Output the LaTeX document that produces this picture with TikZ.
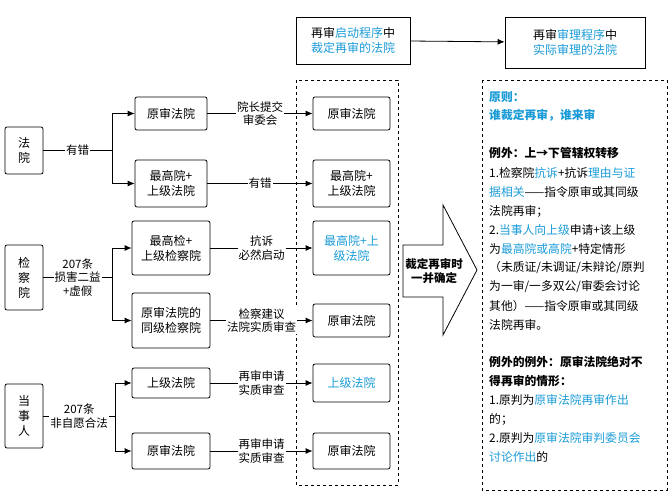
\documentclass[tikz,border=0pt]{standalone}
\usepackage{fontspec}
\setmainfont{Noto Sans CJK SC}
\usetikzlibrary{arrows.meta}
\definecolor{hlblue}{HTML}{1A9BD7}
\newcommand{\hl}[1]{\textcolor{hlblue}{#1}}
\tikzset{
  box/.style={draw, rounded corners=2pt, thick, align=center, inner sep=0pt},
  lbl/.style={fill=white, align=center, inner sep=1pt, font=\fontsize{11.5}{13.5}\selectfont},
  arr/.style={-{Latex[length=7pt,width=6pt]}, thick},
  txt/.style={anchor=west, inner sep=0pt, font=\fontsize{11.8}{13}\selectfont}
}
\begin{document}
\begin{tikzpicture}[x=1pt,y=-1pt,font=\fontsize{12}{15}\selectfont]
\useasboundingbox (0,0) rectangle (671,500);

% top headers
\node[box, rounded corners=0pt, minimum width=114, minimum height=47] (top1) at (353,40.5) {再审\hl{启动程序}中\\\hl{裁定再审的法院}};
\node[box, rounded corners=0pt, minimum width=140, minimum height=51] (top2) at (575,42.5) {再审\hl{审理程序}中\\\hl{实际审理的法院}};
\draw[arr] (top1) -- (top2);

% dashed frames
\draw[dashed, thick] (296,80) rectangle (398,485);
\draw[dashed, thick] (482,80) rectangle (667,490);

% left parties
\node[box, minimum width=38, minimum height=47] (fy) at (24,150.5) {法\\院};
\node[box, minimum width=38, minimum height=65] (jcy) at (24,277.5) {检\\察\\院};
\node[box, minimum width=38, minimum height=64] (dsr) at (24,416) {当\\事\\人};

% middle column
\node[box, minimum width=72, minimum height=33] (m1) at (171,113.5) {原审法院};
\node[box, minimum width=72, minimum height=47] (m2) at (171,183.5) {最高院+\\上级法院};
\node[box, minimum width=78, minimum height=54] (m3) at (171,248) {最高检+\\上级检察院};
\node[box, minimum width=78, minimum height=55] (m4) at (171,320.5) {原审法院的\\同级检察院};
\node[box, minimum width=78, minimum height=30] (m5) at (171,383) {上级法院};
\node[box, minimum width=78, minimum height=36] (m6) at (171,451) {原审法院};

% right column
\node[box, minimum width=77, minimum height=33] (r1) at (351.5,113.5) {原审法院};
\node[box, minimum width=77, minimum height=47] (r2) at (351.5,183.5) {最高院+\\上级法院};
\node[box, minimum width=77, minimum height=54] (r3) at (351.5,248) {\hl{最高院+上}\\\hl{级法院}};
\node[box, minimum width=77, minimum height=33] (r4) at (351.5,320.5) {原审法院};
\node[box, minimum width=77, minimum height=38] (r5) at (351.5,383) {\hl{上级法院}};
\node[box, minimum width=77, minimum height=36] (r6) at (351.5,451) {原审法院};

% branches
\coordinate (b1) at (112,150.5);
\coordinate (b2) at (112,277.5);
\coordinate (b3) at (115,416);
\draw[thick] (fy) -- node[lbl] {有错} (b1);
\draw[thick] (jcy) -- node[lbl] {207条\\损害二益\\+虚假} (b2);
\draw[thick] (dsr) -- node[lbl] {207条\\非自愿合法} (b3);
\draw[arr] (b1) |- (m1);
\draw[arr] (b1) |- (m2);
\draw[arr] (b2) |- (m3);
\draw[arr] (b2) |- (m4);
\draw[arr] (b3) |- (m5);
\draw[arr] (b3) |- (m6);

% middle to right
\draw[arr] (m1) -- node[lbl] {院长提交\\审委会} (r1);
\draw[arr] (m2) -- node[lbl] {有错} (r2);
\draw[arr] (m3) -- node[lbl] {抗诉\\必然启动} (r3);
\draw[arr] (m4) -- node[lbl] {检察建议\\法院实质审查} (r4);
\draw[arr] (m5) -- node[lbl] {再审申请\\实质审查} (r5);
\draw[arr] (m6) -- node[lbl] {再审申请\\实质审查} (r6);

% big arrow
\draw[thick] (403,245) -- (443,245) -- (443,205) -- (477,270) -- (443,335) -- (443,297) -- (403,297) -- cycle;
\node[align=center, font=\fontsize{11.5}{14}\bfseries\selectfont] (bigarr) at (434,271) {裁定再审时\\一并确定};

% rules text
\node[txt] (t1) at (489,97) {\hl{\bfseries 原则：}};
\node[txt] (t2) at (489,115) {\hl{\bfseries 谁裁定再审，谁来审}};
\node[txt] (t3) at (489,153) {\bfseries 例外：上→下管辖权转移};
\node[txt] (t4) at (489,173) {1.检察院\hl{抗诉}+抗诉\hl{理由与证}};
\node[txt] (t5) at (489,192) {\hl{据相关}——指令原审或其同级};
\node[txt] (t6) at (489,211) {法院再审；};
\node[txt] (t7) at (489,230) {2.\hl{当事人向上级}申请+该上级};
\node[txt] (t8) at (489,249) {为\hl{最高院或高院}+特定情形};
\node[txt] (t9) at (489,268) {（未质证/未调证/未辩论/原判};
\node[txt] (t10) at (489,287) {为一审/一多双公/审委会讨论};
\node[txt] (t11) at (489,306) {其他）——指令原审或其同级};
\node[txt] (t12) at (489,325) {法院再审。};
\node[txt] (t13) at (489,362) {\bfseries 例外的例外：原审法院绝对不};
\node[txt] (t14) at (489,381) {\bfseries 得再审的情形：};
\node[txt] (t15) at (489,400) {1.原判为\hl{原审法院再审作出}};
\node[txt] (t16) at (489,419) {的；};
\node[txt] (t17) at (489,438) {2.原判为\hl{原审法院审判委员会}};
\node[txt] (t18) at (489,457) {\hl{讨论作出}的};
\end{tikzpicture}
\end{document}
